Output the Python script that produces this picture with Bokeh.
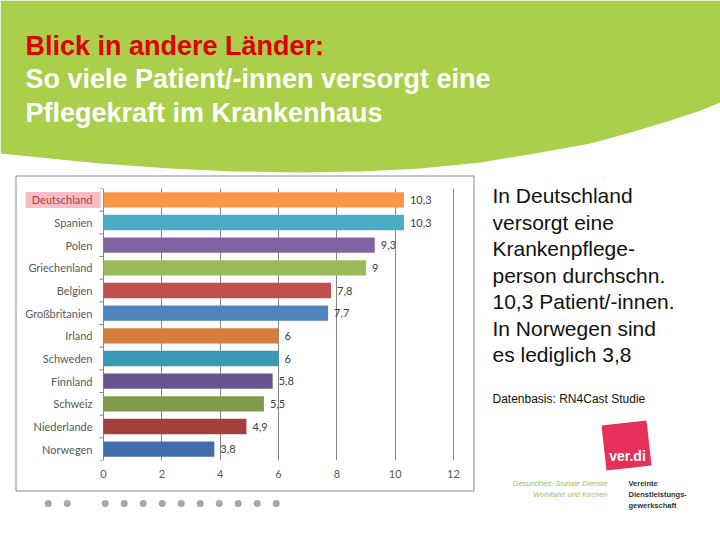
from bokeh.plotting import figure
from bokeh.models import Range1d, FixedTicker, ColumnDataSource, LabelSet, Column
from bokeh.core.properties import value
from bokeh.embed import file_html
from bokeh.resources import INLINE

# ---------------- data ----------------
countries = ["Deutschland", "Spanien", "Polen", "Griechenland", "Belgien", "Großbritanien",
             "Irland", "Schweden", "Finnland", "Schweiz", "Niederlande", "Norwegen"]
patients = [10.3, 10.3, 9.3, 9, 7.8, 7.7, 6, 6, 5.8, 5.5, 4.9, 3.8]
value_labels = ["10,3", "10,3", "9,3", "9", "7,8", "7,7", "6", "6", "5,8", "5,5", "4,9", "3,8"]
bar_colors = ["#F79646", "#4BACC6", "#8064A2", "#9BBB59", "#C0504D", "#4F81BD",
              "#D57F3C", "#3A99B2", "#68548F", "#7F9A48", "#A3403E", "#3F6EAA"]
x_ticks = [0, 2, 4, 6, 8, 10, 12]

title_red = "Blick in andere Länder:"
title_white = ["So viele Patient/-innen versorgt eine", "Pflegekraft im Krankenhaus"]
side_text = ["In Deutschland", "versorgt eine", "Krankenpflege-", "person durchschn.",
             "10,3 Patient/-innen.", "In Norwegen sind", "es lediglich 3,8"]
source_text = "Datenbasis: RN4Cast Studie"

n = len(countries)
pos = [n - 1 - i for i in range(n)]

W, H = 720, 540

# ---------------- slide background (pixel space, y downwards) ----------------
bg = figure(width=W, height=H, output_backend="svg", toolbar_location=None,
            x_range=Range1d(0, W), y_range=Range1d(H, 0), min_border=0,
            x_axis_location=None, y_axis_location=None)
bg.grid.visible = False
bg.outline_line_color = None
bg.background_fill_color = "white"
bg.border_fill_color = "white"

green_bottom = [(0, 153), (50, 158), (100, 163), (170, 168), (233, 171), (300, 172), (360, 171),
                (420, 168), (480, 162), (540, 152), (590, 143), (630, 132), (670, 120),
                (700, 110), (720, 102)]
gx = [0, 720] + [q[0] for q in reversed(green_bottom)]
gy = [0, 0] + [q[1] for q in reversed(green_bottom)]
bg.patch(gx, gy, fill_color="#A9CF4B", line_color=None)

bg.text(x=[25], y=[45], text=[title_red], text_font=value("Liberation Sans"),
        text_font_style="bold", text_font_size="27px", text_color="#E00000",
        text_baseline="middle")
bg.text(x=[25, 25], y=[78.8, 112.5], text=title_white, text_font=value("Liberation Sans"),
        text_font_style="bold", text_font_size="27px", text_color="white",
        text_baseline="middle")

bg.text(x=[492] * len(side_text), y=[195 + 26.5 * k for k in range(len(side_text))],
        text=side_text, text_font=value("Liberation Sans"), text_font_size="21px",
        text_color="#111111", text_baseline="middle")
bg.text(x=[492], y=[398], text=[source_text], text_font=value("Liberation Sans"),
        text_font_size="12px", text_color="#111111", text_baseline="middle")

# chart frame box
bg.quad(left=[15.5], right=[473.5], top=[175.5], bottom=[490.5], fill_color="white",
        line_color="#8A8A8A", line_width=1)
# highlight behind first category label
bg.quad(left=[25], right=[100], top=[191.5], bottom=[207.5], fill_color="#F8BCC4",
        line_color=None)

# slide dots
dot_x = [47.7 + 19.0 * k for k in list(range(2)) + list(range(3, 13))]
bg.scatter(x=dot_x, y=[503] * len(dot_x), size=7, fill_color="#A8A8A8", line_color=None)

# ver.di logo
bg.patch([601, 646, 651, 606], [425, 420, 465, 470], fill_color="#E5305A", line_color=None)
bg.text(x=[627], y=[455], text=["ver.di"], text_font=value("Liberation Sans"),
        text_font_style="bold", text_font_size="14px", text_color="white",
        text_baseline="middle", text_align="center")
bg.text(x=[607, 607], y=[483, 494], text=["Gesundheit, Soziale Dienste", "Wohlfahrt und Kirchen"],
        text_font=value("Liberation Sans"), text_font_style="italic", text_font_size="7.5px",
        text_color="#A3BE5C", text_baseline="middle", text_align="right")
bg.text(x=[628, 628, 628], y=[483, 494, 505], text=["Vereinte", "Dienstleistungs-", "gewerkschaft"],
        text_font=value("Liberation Sans"), text_font_style="bold", text_font_size="7.5px",
        text_color="#333333", text_baseline="middle")

# ---------------- chart (overlaid, transparent) ----------------
CX, CY, CW, CH = 16, 176, 457, 314
X0, X12, YT, YB = 103, 453, 188, 460        # pixel position of value 0 / 12 and plot top/bottom
u = (X12 - X0) / 12.0                       # pixels per unit
ch = figure(width=CW, height=CH, output_backend="svg", toolbar_location=None,
            x_range=Range1d(-(X0 - CX) / u, 12 + (CX + CW - X12) / u),
            y_range=Range1d(-0.5, n - 0.5), y_axis_location=None,
            min_border_left=0, min_border_right=0,
            min_border_top=YT - CY, min_border_bottom=CY + CH - YB)
ch.margin = (CY - H, 0, 0, CX)
ch.outline_line_color = None
ch.background_fill_alpha = 0
ch.border_fill_alpha = 0

src = ColumnDataSource(dict(y=pos, v=patients, lab=value_labels, c=bar_colors, name=countries))
ch.hbar(y="y", left=0, right="v", height=0.68, fill_color="c", line_color=None, source=src)
ch.add_layout(LabelSet(x="v", y="y", text="lab", source=src, x_offset=6,
                       text_baseline="middle", text_font=value("Lato"),
                       text_font_size="11px", text_color="#404040"))

# category axis: boundary ticks + labels
bounds = [k - 0.5 for k in range(n + 1)]
ch.segment(x0=[0] * len(bounds), x1=[-4 / u] * len(bounds), y0=bounds, y1=bounds,
           line_color="#868686", line_width=1)
ch.text(x=[0] * (n - 1), y=pos[1:], text=countries[1:], x_offset=-11,
        text_align="right", text_baseline="middle", text_font=value("Lato"),
        text_font_size="11px", text_color="#595959")
ch.text(x=[0], y=pos[:1], text=countries[:1], x_offset=-11,
        text_align="right", text_baseline="middle", text_font=value("Lato"),
        text_font_size="11px", text_color="#B0404A")

ch.xaxis.ticker = FixedTicker(ticks=x_ticks)
ch.xaxis.axis_line_color = None
ch.xaxis.major_tick_line_color = None
ch.xaxis.minor_tick_line_color = None
ch.xaxis.major_tick_out = 0
ch.xaxis.major_label_standoff = 9
ch.xaxis.major_label_text_font = "Lato"
ch.xaxis.major_label_text_font_size = "11px"
ch.xaxis.major_label_text_color = "#595959"

ch.xgrid.ticker = FixedTicker(ticks=x_ticks)
ch.xgrid.grid_line_color = "#868686"
ch.ygrid.grid_line_color = None

page = Column(children=[bg, ch])

open("out.html", "w").write(file_html(page, INLINE))
